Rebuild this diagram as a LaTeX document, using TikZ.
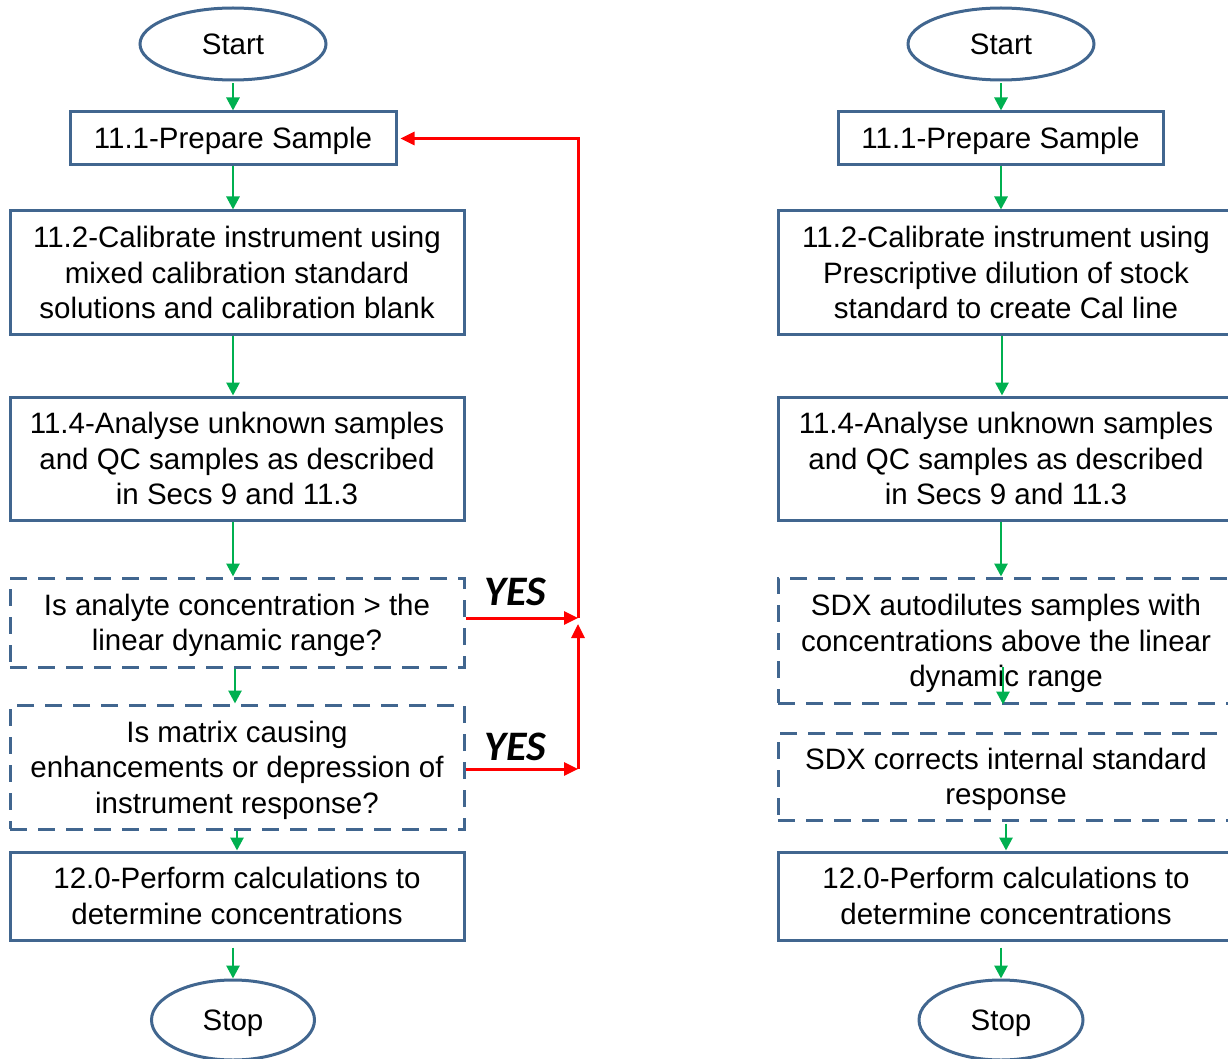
\documentclass[tikz,border=0pt]{standalone}
\usepackage{fontspec}
\setmainfont{Liberation Sans}
\newfontfamily\yesfont{Carlito}
\usetikzlibrary{shapes.geometric,arrows.meta,calc}
\definecolor{boxblue}{HTML}{41668F}
\definecolor{flowgreen}{HTML}{00B050}
\definecolor{flowred}{HTML}{FF0000}
\newcommand{\txtstrut}{\rule[-6.2pt]{0pt}{32.6pt}}
\begin{document}
\begin{tikzpicture}[x=1pt,y=1pt,
  basebox/.style={draw=boxblue, line width=3pt, fill=white, inner sep=0pt, align=center,
    font=\fontsize{29.5}{35.5}\selectfont},
  onel/.style={execute at begin node=\txtstrut, execute at end node=\txtstrut},
  solidbox/.style={basebox, rectangle},
  dashbox/.style={basebox, rectangle, dash pattern=on 17pt off 11pt},
  term/.style={basebox, ellipse, onel},
  garrow/.style={draw=flowgreen, line width=2.8pt, -{Triangle[length=13pt,width=13pt]}},
  rarrow/.style={draw=flowred, line width=3pt, -{Triangle[length=14pt,width=13pt]}},
  yeslbl/.style={font=\yesfont\bfseries\itshape\fontsize{42}{42}\selectfont, inner sep=0pt}]
\useasboundingbox (0,0) rectangle (1228,-1059);

% ---------- left column ----------
\node[term, minimum width=186pt, minimum height=72pt] (ls) at (233,-44) {Start};
\node[solidbox, onel, minimum width=326pt, minimum height=53pt] (l1) at (233,-138.5) {11.1-Prepare Sample};
\node[solidbox, minimum width=454pt, minimum height=123pt] (l2) at (237,-272.5)
  {11.2-Calibrate instrument using\\mixed calibration standard\\solutions and calibration blank};
\node[solidbox, minimum width=454pt, minimum height=123pt] (l3) at (237,-458.5)
  {11.4-Analyse unknown samples\\and QC samples as described\\in Secs 9 and 11.3};
\node[dashbox, text depth=-1pt, minimum width=454pt, minimum height=89pt] (l4) at (237,-622.5)
  {Is analyte concentration > the\\linear dynamic range?};
\node[dashbox, text depth=0pt, minimum width=454pt, minimum height=124pt] (l5) at (237,-767)
  {Is matrix causing\\enhancements or depression of\\instrument response?};
\node[solidbox, text depth=-2pt, minimum width=454pt, minimum height=88pt] (l6) at (237,-896)
  {12.0-Perform calculations to\\determine concentrations};
\node[term, minimum width=163pt, minimum height=80pt] (le) at (233,-1020) {Stop};

\node[yeslbl] (y1) at (515,-592) {YES};
\node[yeslbl] (y2) at (515,-747) {YES};

% green connectors (left)
\coordinate (lx) at (233,0);
\draw[garrow] ($(ls.south)+(0,-2)$) -- (ls.south |- l1.north);
\draw[garrow] (l1.south) -- (l1.south |- l2.north);
\draw[garrow] (lx |- l2.south) -- (lx |- l3.north);
\draw[garrow] (lx |- l3.south) -- (lx |- l4.north);
\draw[garrow] ($(l4.south)+(-2,0)$) -- ($(l5.north)+(-2,0)$);
\draw[garrow] (l5.south) -- (l6.north);
\draw[garrow] ($(lx |- l6.south)+(0,-6)$) -- (lx |- le.north);

% red connectors
\coordinate (jx) at (578,0);
\coordinate (ja) at (578,-618);
\coordinate (jb) at (578,-769);
\draw[rarrow] (l4.east |- ja) -- (ja);
\draw[rarrow] (l5.east |- jb) -- (jb);
\draw[rarrow] (jb) -- ($(ja)+(0,-6)$);
\draw[rarrow, shorten >=3pt] (ja) -- (jx |- l1.east) -- (l1.east);

% ---------- right column ----------
\node[term, minimum width=186pt, minimum height=72pt] (rs) at (1001,-44) {Start};
\node[solidbox, onel, minimum width=325pt, minimum height=53pt] (r1) at (1000.5,-138.5) {11.1-Prepare Sample};
\node[solidbox, minimum width=456pt, minimum height=123pt] (r2) at (1006,-272.5)
  {11.2-Calibrate instrument using\\Prescriptive dilution of stock\\standard to create Cal line};
\node[solidbox, minimum width=456pt, minimum height=123pt] (r3) at (1006,-458.5)
  {11.4-Analyse unknown samples\\and QC samples as described\\in Secs 9 and 11.3};
\node[dashbox, text depth=-1pt, minimum width=456pt, minimum height=125pt] (r4) at (1006,-640.5)
  {SDX autodilutes samples with\\concentrations above the linear\\dynamic range};
\node[dashbox, text depth=0pt, minimum width=456pt, minimum height=87pt] (r5) at (1006,-776.5)
  {SDX corrects internal standard\\response};
\node[solidbox, text depth=-2pt, minimum width=456pt, minimum height=88pt] (r6) at (1006,-896)
  {12.0-Perform calculations to\\determine concentrations};
\node[term, minimum width=164pt, minimum height=80pt] (re) at (1001,-1020) {Stop};

% green connectors (right)
\coordinate (rx) at (1001,0);
\draw[garrow] ($(rs.south)+(0,-2)$) -- (rs.south |- r1.north);
\draw[garrow] (rx |- r1.south) -- (rx |- r2.north);
\draw[garrow] ($(rx |- r2.south)+(1,0)$) -- ($(rx |- r3.north)+(1,0)$);
\draw[garrow] (rx |- r3.south) -- (rx |- r4.north);
\coordinate (r4in) at (1003,-667);
\draw[garrow] (r4in) -- (r4in |- r4.south);
\draw[garrow] ($(rx |- r5.south)+(5,-2)$) -- ($(rx |- r6.north)+(5,0)$);
\draw[garrow] ($(rx |- r6.south)+(0,-6)$) -- (rx |- re.north);
\end{tikzpicture}
\end{document}
